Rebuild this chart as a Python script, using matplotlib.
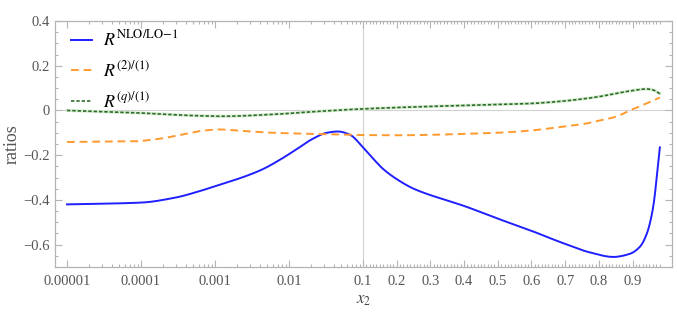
import numpy as np
import matplotlib
matplotlib.use("Agg")
import matplotlib.pyplot as plt
from matplotlib.ticker import FixedLocator, FixedFormatter
from matplotlib.lines import Line2D

plt.rcParams['mathtext.fontset'] = 'stix'
plt.rcParams['font.family'] = ['Liberation Serif', 'DejaVu Serif']

# ---- data ----
x_nlo = [1e-5, 1e-4, 10**-3.54, 10**-3.2, 10**-3.03, 10**-2.57, 10**-2.35, 10**-2.12,
         10**-1.89, 10**-1.68, 10**-1.49, 10**-1.34, 10**-1.18, 0.1, 0.131, 0.16, 0.2,
         0.249, 0.299, 0.353, 0.398, 0.497, 0.596, 0.695, 0.774, 0.843, 0.892, 0.922,
         0.942, 0.96, 0.981]
y_nlo = [-0.420, -0.412, -0.390, -0.360, -0.342, -0.292, -0.262, -0.220,
         -0.172, -0.127, -0.100, -0.094, -0.108, -0.165, -0.217, -0.262, -0.307,
         -0.349, -0.378, -0.404, -0.426, -0.482, -0.536, -0.594, -0.635, -0.655, -0.641,
         -0.609, -0.552, -0.442, -0.165]

x_2 = [1e-5, 10**-4.1, 10**-3.76, 10**-3.4, 10**-3.15, 10**-2.94, 10**-2.62, 10**-2.2,
       10**-1.54, 0.1, 0.2, 0.299, 0.397, 0.497, 0.596, 0.695, 0.764, 0.793, 0.85, 0.892,
       0.94, 0.981]
y_2 = [-0.141, -0.138, -0.127, -0.105, -0.090, -0.085, -0.092, -0.100,
       -0.106, -0.110, -0.111, -0.109, -0.105, -0.100, -0.090, -0.072, -0.058, -0.048,
       -0.028, 0.000, 0.030, 0.058]

x_q = [1e-5, 10**-4.1, 10**-3.2, 10**-2.9, 10**-2.24, 10**-1.6, 0.1, 0.2, 0.299, 0.397,
       0.497, 0.596, 0.695, 0.793, 0.892, 0.942, 0.96, 0.981]
y_q = [0.000, -0.010, -0.024, -0.026, -0.018, -0.004, 0.007, 0.013, 0.018, 0.022,
       0.026, 0.031, 0.042, 0.060, 0.087, 0.096, 0.092, 0.075]

x_tick_vals = [1e-5, 1e-4, 1e-3, 1e-2, 0.1, 0.2, 0.3, 0.4, 0.5, 0.6, 0.7, 0.8, 0.9]
x_tick_labels = ['0.00001', '0.0001', '0.001', '0.01', '0.1', '0.2', '0.3', '0.4',
                 '0.5', '0.6', '0.7', '0.8', '0.9']
y_tick_vals = [-0.6, -0.4, -0.2, 0.0, 0.2, 0.4]
y_tick_labels = ['\u22120.6', '\u22120.4', '\u22120.2', '0', '0.2', '0.4']

# ---- hybrid scale: log below 0.1, linear above ----
K = 337.0 / 74.0

def fwd(x):
    x = np.asarray(x, dtype=float)
    xs = np.clip(x, 1e-12, None)
    return np.where(x <= 0.1, np.log10(xs), -1.0 + (x - 0.1) * K)

def inv(u):
    u = np.asarray(u, dtype=float)
    return np.where(u <= -1.0, 10.0 ** np.minimum(u, 0), 0.1 + (u + 1.0) / K)

def smooth(xs, ys, n=500):
    u = fwd(np.array(xs))
    ys = np.array(ys)
    uu = np.linspace(u[0], u[-1], n)
    h = np.diff(u)
    d = np.diff(ys) / h
    m = np.zeros_like(ys)
    m[0], m[-1] = d[0], d[-1]
    for i in range(1, len(ys) - 1):
        if d[i - 1] * d[i] <= 0:
            m[i] = 0
        else:
            w1 = 2 * h[i] + h[i - 1]
            w2 = h[i] + 2 * h[i - 1]
            m[i] = (w1 + w2) / (w1 / d[i - 1] + w2 / d[i])
    idx = np.clip(np.searchsorted(u, uu) - 1, 0, len(u) - 2)
    t = (uu - u[idx]) / h[idx]
    h00 = 2 * t**3 - 3 * t**2 + 1
    h10 = t**3 - 2 * t**2 + t
    h01 = -2 * t**3 + 3 * t**2
    h11 = t**3 - t**2
    yy = h00 * ys[idx] + h10 * h[idx] * m[idx] + h01 * ys[idx + 1] + h11 * h[idx] * m[idx + 1]
    return inv(uu), yy

fig = plt.figure(figsize=(6.77, 3.16), dpi=100)
ax = fig.add_axes([55 / 677, (316 - 267) / 316, (672 - 55) / 677, (267 - 21) / 316])
ax.set_xscale('function', functions=(fwd, inv))

frame_c = '#b4b4b4'
ax.axvline(0.1, color='#d2d2d2', lw=0.8, zorder=0)
ax.axhline(0.0, color='#d2d2d2', lw=0.8, zorder=0)

xb, yb = smooth(x_nlo, y_nlo)
ax.plot(xb, yb, color='#1f1fff', lw=1.4, zorder=3)
xo, yo = smooth(x_2, y_2)
ax.plot(xo, yo, color='#ff9a2e', lw=1.4, ls=(0, (4, 2.5)), zorder=3)
xg, yg = smooth(x_q, y_q)
ax.plot(xg, yg, color='#d6ecd0', lw=2.2, zorder=2)
ax.plot(xg, yg, color='#2c6b2a', lw=1.2, ls=(0, (2, 1.2)), zorder=3)

handles = [Line2D([], [], color='#1f1fff', lw=1.4),
           Line2D([], [], color='#ff9a2e', lw=1.4, ls=(0, (4, 2.5))),
           Line2D([], [], color='#2c6b2a', lw=1.2, ls=(0, (2, 1.2)))]
labels = [r'$R^{\mathrm{NLO/LO\!-\!1}}$', r'$R^{(2)/(1)}$', r'$R^{(q)/(1)}$']

ax.set_xlim(10 ** -5.162, 1.017)
ax.set_ylim(-0.7, 0.4)

ax.xaxis.set_major_locator(FixedLocator(x_tick_vals))
ax.xaxis.set_major_formatter(FixedFormatter(x_tick_labels))
minor_x = []
for dec in [1e-5, 1e-4, 1e-3, 1e-2]:
    minor_x += [dec * k for k in range(2, 10)]
minor_x += [round(0.1 + 0.01 * i, 3) for i in range(1, 89) if i % 10 != 0]
ax.xaxis.set_minor_locator(FixedLocator(minor_x))
ax.xaxis.set_minor_formatter(FixedFormatter([''] * len(minor_x)))

ax.yaxis.set_major_locator(FixedLocator(y_tick_vals))
ax.yaxis.set_major_formatter(FixedFormatter(y_tick_labels))
ax.yaxis.set_minor_locator(FixedLocator([v / 100 for v in range(-70, 41, 5)]))

for s in ax.spines.values():
    s.set_color(frame_c)
    s.set_linewidth(0.9)
ax.tick_params(which='both', direction='in', color=frame_c, top=True, right=True,
               labelcolor='#555555', labelsize=10.5, width=0.8)
ax.tick_params(which='major', length=5)
ax.tick_params(which='minor', length=2.5)
ax.tick_params(axis='x', pad=6)

ax.set_xlabel(r'$x_2$', fontsize=12, color='#444444', labelpad=3)
ax.set_ylabel('ratios', fontsize=13, color='#555555', labelpad=2)

leg = ax.legend(handles, labels, loc='upper left', bbox_to_anchor=(0.0, 1.03), frameon=False,
                fontsize=13, handlelength=1.17, labelspacing=0.6, handletextpad=0.6)

fig.savefig('out.png', dpi=100)
